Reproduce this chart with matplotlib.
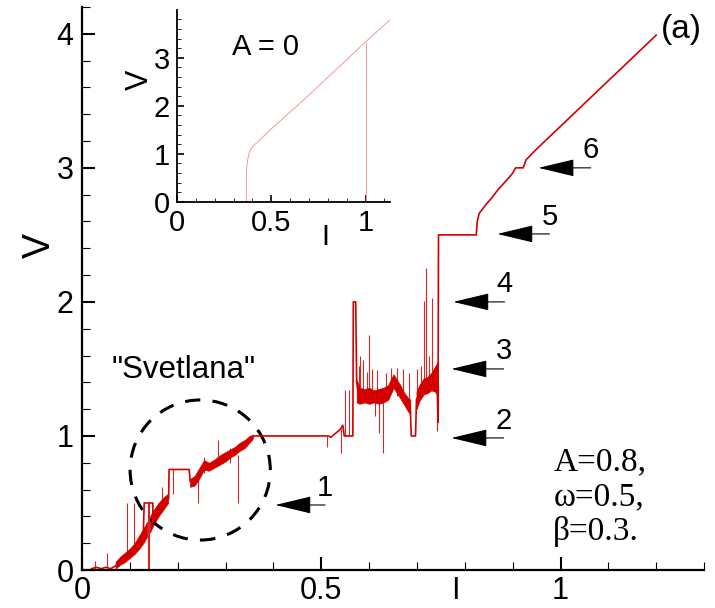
import matplotlib
matplotlib.use("Agg")
import matplotlib.pyplot as plt
from matplotlib.patches import Ellipse

plt.rcParams['font.family'] = ['Liberation Sans', 'DejaVu Sans']

# main I-V curve (centre line of the trace)
main_I = [0.02, 0.03, 0.04, 0.05, 0.06, 0.07, 0.08, 0.09, 0.10, 0.11, 0.12, 0.128,
          0.13, 0.148, 0.148, 0.155, 0.165, 0.175, 0.181, 0.182, 0.224, 0.226,
          0.235, 0.245, 0.255, 0.265, 0.275, 0.29, 0.31, 0.33, 0.345, 0.358,
          0.515, 0.52, 0.53, 0.54, 0.545, 0.548, 0.566, 0.567, 0.572, 0.574,
          0.578, 0.59, 0.60, 0.61, 0.62, 0.63, 0.64, 0.651, 0.665, 0.675, 0.686,
          0.688, 0.697, 0.699, 0.705, 0.714, 0.722, 0.73, 0.738, 0.742, 0.744,
          0.745, 0.824, 0.826, 0.83, 0.845, 0.855, 0.87, 0.888, 0.90, 0.906,
          0.922, 0.928, 0.95, 1.0, 1.05, 1.10, 1.15, 1.20]
main_V = [0.01, 0.02, 0.01, 0.02, 0.01, 0.03, 0.05, 0.09, 0.12, 0.15, 0.20, 0.26,
          0.50, 0.50, 0.36, 0.40, 0.45, 0.50, 0.53, 0.75, 0.75, 0.66,
          0.65, 0.72, 0.79, 0.77, 0.79, 0.82, 0.86, 0.91, 0.95, 1.00,
          1.00, 0.99, 1.02, 1.05, 1.08, 1.00, 1.00, 2.00, 2.00, 1.40,
          1.31, 1.30, 1.30, 1.29, 1.30, 1.30, 1.33, 1.41, 1.33, 1.28, 1.22,
          1.00, 1.00, 1.27, 1.32, 1.37, 1.38, 1.40, 1.43, 1.42, 1.10,
          2.50, 2.50, 2.60, 2.66, 2.73, 2.77, 2.84, 2.91, 2.96, 3.00,
          3.00, 3.06, 3.14, 3.31, 3.48, 3.65, 3.82, 3.99]

# noisy bands of the trace, each as (I, lower V, upper V)
rise_I = [0.07, 0.08, 0.09, 0.10, 0.11, 0.12, 0.13, 0.136]
rise_lo = [0.01, 0.04, 0.06, 0.09, 0.12, 0.16, 0.21, 0.25]
rise_hi = [0.06, 0.10, 0.13, 0.16, 0.20, 0.26, 0.32, 0.36]

rise2_I = [0.142, 0.15, 0.16, 0.17, 0.18]
rise2_lo = [0.28, 0.34, 0.40, 0.45, 0.50]
rise2_hi = [0.40, 0.45, 0.50, 0.54, 0.57]

svet_I = [0.226, 0.235, 0.245, 0.255, 0.265, 0.275, 0.29, 0.30, 0.31, 0.32,
          0.33, 0.34, 0.35, 0.357]
svet_lo = [0.62, 0.63, 0.68, 0.75, 0.74, 0.76, 0.79, 0.81, 0.84, 0.86,
           0.89, 0.91, 0.95, 0.98]
svet_hi = [0.68, 0.70, 0.76, 0.82, 0.80, 0.82, 0.86, 0.88, 0.90, 0.92,
           0.95, 0.97, 1.00, 1.01]

mid_I = [0.574, 0.58, 0.59, 0.60, 0.61, 0.62, 0.63, 0.64, 0.645, 0.651,
         0.658, 0.665, 0.672, 0.68, 0.686]
mid_lo = [1.25, 1.24, 1.25, 1.24, 1.25, 1.24, 1.25, 1.27, 1.31, 1.36,
          1.32, 1.28, 1.24, 1.19, 1.16]
mid_hi = [1.42, 1.36, 1.35, 1.36, 1.34, 1.35, 1.36, 1.38, 1.42, 1.46,
          1.42, 1.38, 1.33, 1.29, 1.27]

end_I = [0.699, 0.705, 0.714, 0.722, 0.73, 0.738, 0.743]
end_lo = [1.20, 1.26, 1.31, 1.32, 1.34, 1.33, 1.30]
end_hi = [1.33, 1.38, 1.43, 1.44, 1.47, 1.52, 1.55]

bands = [(rise_I, rise_lo, rise_hi), (rise2_I, rise2_lo, rise2_hi),
         (svet_I, svet_lo, svet_hi), (mid_I, mid_lo, mid_hi),
         (end_I, end_lo, end_hi)]

# thin spikes of the trace
spike_I = [0.027, 0.052, 0.094, 0.109, 0.137, 0.141, 0.167, 0.19, 0.243, 0.254,
           0.285, 0.31, 0.325, 0.513, 0.542, 0.55, 0.559, 0.578, 0.582, 0.588,
           0.595, 0.60, 0.606, 0.612, 0.617, 0.62, 0.628, 0.636, 0.646, 0.659,
           0.671, 0.684, 0.70, 0.708, 0.714, 0.718, 0.726, 0.732, 0.741]
spike_lo = [0.00, 0.02, 0.08, 0.12, 0.00, 0.00, 0.43, 0.57, 0.50, 0.72,
            0.78, 0.80, 0.50, 0.92, 0.87, 1.00, 1.00, 1.25, 1.30, 1.30,
            1.28, 1.30, 1.30, 1.15, 1.30, 1.02, 0.87, 1.30, 1.34, 1.30,
            1.30, 1.25, 1.28, 1.30, 1.37, 1.38, 1.38, 1.40, 1.04]
spike_hi = [0.07, 0.13, 0.50, 0.50, 0.50, 0.50, 0.62, 0.75, 0.72, 0.84,
            0.97, 0.91, 0.86, 1.00, 1.05, 1.34, 1.34, 1.52, 1.60, 1.57,
            1.48, 1.75, 1.50, 1.30, 1.49, 1.30, 1.30, 1.47, 1.51, 1.51,
            1.50, 1.47, 1.50, 1.52, 2.01, 2.25, 1.60, 2.03, 1.40]

# A = 0 curve for the inset
inset_I = [0.368, 0.368, 0.370, 0.375, 0.384, 0.40, 0.42, 0.50, 0.665, 0.84, 1.0, 1.18]
inset_V = [0.0, 0.50, 0.75, 0.88, 1.05, 1.15, 1.22, 1.52, 2.10, 2.74, 3.33, 3.97]

# arrows: label, tip (I, V) and tail end I
arrow_labels = ['1', '2', '3', '4', '5', '6']
arrow_tip_I = [0.404, 0.772, 0.772, 0.776, 0.868, 0.954]
arrow_tip_V = [0.485, 0.985, 1.50, 2.00, 2.507, 3.00]
arrow_tail_I = [0.508, 0.881, 0.881, 0.883, 0.977, 1.063]

xticks = [0, 0.5, 1]
xtick_labels = ['0', '0.5', '1']
yticks = [0, 1, 2, 3, 4]
ytick_labels = ['0', '1', '2', '3', '4']

red = '#d40000'

fig = plt.figure(figsize=(7.15, 6.08), dpi=100)
ax = fig.add_axes([0.1147, 0.0625, 0.870, 0.926])

for bi, blo, bhi in bands:
    ax.fill_between(bi, blo, bhi, color=red, lw=0.5)
ax.vlines(spike_I, spike_lo, spike_hi, color=red, lw=0.8, alpha=0.85)
ax.plot(main_I, main_V, color=red, lw=1.2)

ax.set_xlim(0, 1.3)
ax.set_ylim(0, 4.2)
for s in ['top', 'right']:
    ax.spines[s].set_visible(False)
for s in ['left', 'bottom']:
    ax.spines[s].set_linewidth(1.6)
ax.set_xticks(xticks)
ax.set_xticklabels(xtick_labels)
ax.set_yticks(yticks)
ax.set_yticklabels(ytick_labels)
ax.set_xticks([i / 10 for i in range(14)], minor=True)
ax.set_yticks([i / 5 for i in range(22)], minor=True)
ax.tick_params(which='major', direction='in', length=9.5, width=1.5, labelsize=22, pad=6)
ax.tick_params(which='minor', direction='in', length=5.5, width=0.8)
ax.tick_params(axis='x', which='major', pad=4)

ax.set_xlabel('I', fontsize=22, va='center')
ax.xaxis.set_label_coords(0.6, -0.038)
ax.set_ylabel('V', fontsize=27, va='center')
ax.yaxis.set_label_coords(-0.068, 0.577)

# marked region
ax.add_patch(Ellipse((0.247, 0.746), 0.293, 1.045, fill=False, color='k',
                     lw=2.2, ls=(0, (5, 4))))
ax.text(0.213, 1.49, '"Svetlana"', fontsize=22.5, ha='center', va='center')

for lab, ti, tv, tl in zip(arrow_labels, arrow_tip_I, arrow_tip_V, arrow_tail_I):
    ax.annotate('', xy=(ti, tv), xytext=(tl, tv),
                arrowprops=dict(arrowstyle='-|>,head_length=2.3,head_width=0.55',
                                color='k', lw=0.8, mutation_scale=10,
                                shrinkA=0, shrinkB=0))
    ax.text(tl, tv + 0.13, lab, fontsize=21, ha='center', va='center')

ax.text(1.253, 4.03, '(a)', fontsize=24, ha='center', va='center')

param_lines = ['A=0.8,', '\u03c9=0.5,', '\u03b2=0.3.']
param_V = [0.806, 0.545, 0.284]
for t, v in zip(param_lines, param_V):
    ax.text(0.985, v, t, fontsize=24, family=['Liberation Serif', 'DejaVu Serif'],
            ha='left', va='center')

# inset: A = 0
ins = fig.add_axes([0.2476, 0.668, 0.298, 0.316])
ins.plot(inset_I, inset_V, color='#f29a9a', lw=0.7)
ins.vlines([1.0], 0, 3.33, color='#f29a9a', lw=0.7)
ins.set_xlim(0, 1.13)
ins.set_ylim(0, 4.0)
ins.patch.set_alpha(0)
for s in ['top', 'right']:
    ins.spines[s].set_visible(False)
for s in ['left', 'bottom']:
    ins.spines[s].set_linewidth(1.3)
ins.set_xticks(xticks)
ins.set_xticklabels(xtick_labels)
ins.set_yticks([0, 1, 2, 3])
ins.set_yticklabels(['0', '1', '2', '3'])
ins.set_xticks([i / 10 for i in range(12)], minor=True)
ins.set_yticks([i / 5 for i in range(20)], minor=True)
ins.tick_params(which='major', direction='in', length=5, width=1.2, labelsize=21, pad=5)
ins.tick_params(which='minor', direction='in', length=3, width=0.6)
ins.set_xlabel('I', fontsize=21)
ins.xaxis.set_label_coords(0.695, -0.11)
ins.set_ylabel('V', fontsize=22, va='center')
ins.yaxis.set_label_coords(-0.174, 0.635)
ins.text(0.468, 3.23, 'A = 0', fontsize=21, ha='center', va='center')

fig.savefig('out.png', dpi=100)
